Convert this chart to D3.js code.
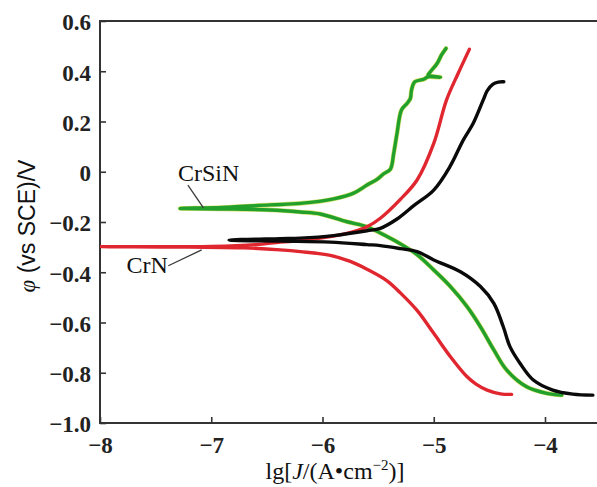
<!DOCTYPE html>
<html>
<head>
<meta charset="utf-8">
<script src="https://cdn.jsdelivr.net/npm/d3@7"></script>
<style>
  html, body { margin: 0; padding: 0; background: #fff; }
  svg { display: block; }
</style>
</head>
<body>
<svg id="chart" width="597" height="487"></svg>
<script>
// Potentiodynamic polarization curves: [lg J, potential φ vs SCE]
// Each curve runs along the cathodic branch toward E_corr, then back out along the anodic branch.
const crnCathodic = [
  [-4.30, -0.886], [-4.40, -0.884], [-4.52, -0.869], [-4.62, -0.845], [-4.70, -0.816],
  [-4.85, -0.736], [-5.00, -0.643], [-5.15, -0.552], [-5.30, -0.482], [-5.42, -0.434],
  [-5.60, -0.388], [-5.75, -0.357], [-5.93, -0.333], [-6.20, -0.318], [-6.38, -0.311],
  [-6.70, -0.303], [-7.20, -0.300], [-8.00, -0.298]
];
const crnAnodic = [
  [-8.00, -0.298], [-7.00, -0.297], [-6.60, -0.290], [-6.38, -0.280], [-6.20, -0.274],
  [-5.93, -0.258], [-5.72, -0.238], [-5.60, -0.219], [-5.48, -0.185], [-5.30, -0.110],
  [-5.15, -0.033], [-5.00, 0.113], [-4.885, 0.286], [-4.78, 0.392], [-4.68, 0.487]
];

const blackCathodic = [
  [-3.57, -0.889], [-3.75, -0.885], [-3.93, -0.869], [-4.105, -0.829], [-4.225, -0.762],
  [-4.315, -0.696], [-4.375, -0.617], [-4.46, -0.524], [-4.58, -0.457], [-4.76, -0.398],
  [-5.00, -0.351], [-5.15, -0.318], [-5.30, -0.306], [-5.48, -0.294], [-5.60, -0.290],
  [-5.93, -0.280], [-6.38, -0.276], [-6.84, -0.272]
];
const blackAnodic = [
  [-6.84, -0.272], [-6.38, -0.266], [-6.20, -0.264], [-5.90, -0.254], [-5.60, -0.235],
  [-5.48, -0.225], [-5.33, -0.188], [-5.18, -0.135], [-5.00, -0.073], [-4.855, 0.020],
  [-4.735, 0.126], [-4.645, 0.193], [-4.555, 0.286], [-4.52, 0.322], [-4.47, 0.348],
  [-4.42, 0.357], [-4.37, 0.358]
];

const crsinCathodic = [
  [-3.85, -0.889], [-3.985, -0.882], [-4.165, -0.856], [-4.345, -0.789], [-4.46, -0.709],
  [-4.58, -0.617], [-4.70, -0.537], [-4.85, -0.457], [-5.00, -0.391], [-5.15, -0.330],
  [-5.30, -0.287], [-5.42, -0.258], [-5.60, -0.219], [-5.78, -0.199], [-6.02, -0.168],
  [-6.20, -0.160], [-6.47, -0.152], [-6.90, -0.148], [-7.28, -0.146]
];
const crsinAnodic = [
  [-7.28, -0.146], [-6.90, -0.142], [-6.47, -0.132], [-6.20, -0.126], [-5.90, -0.108],
  [-5.72, -0.085], [-5.60, -0.053], [-5.51, -0.030], [-5.45, -0.008], [-5.39, 0.010],
  [-5.36, 0.073], [-5.33, 0.153], [-5.29, 0.246], [-5.24, 0.272], [-5.21, 0.292],
  [-5.20, 0.325], [-5.17, 0.358], [-5.09, 0.368], [-5.05, 0.378], [-4.94, 0.376],
  [-5.05, 0.385], [-5.03, 0.398], [-4.97, 0.431], [-4.93, 0.465], [-4.89, 0.491]
];

const xTicks = [-8, -7, -6, -5, -4];
const xTickLabels = ["\u22128", "\u22127", "\u22126", "\u22125", "\u22124"];
const yTicks = [-1.0, -0.8, -0.6, -0.4, -0.2, 0, 0.2, 0.4, 0.6];
const yTickLabels = ["\u22121.0", "\u22120.8", "\u22120.6", "\u22120.4", "\u22120.2", "0", "0.2", "0.4", "0.6"];

// Curve labels with leader lines, in data units
const seriesLabels = [
  { text: "CrSiN", at: [-7.30, -0.037], anchor: "start", leader: [[-7.21, -0.053], [-7.07, -0.144]] },
  { text: "CrN", at: [-7.39, -0.403], anchor: "end", leader: [[-7.386, -0.374], [-7.086, -0.311]] }
];

const W = 597, H = 487;
const svg = d3.select("#chart");

const x = d3.scaleLinear().domain([-8, -4]).range([100, 545]);
const y = d3.scaleLinear().domain([-1.0, 0.6]).range([423, 21]);
const xRight = W;

const axisColor = "#333";
const serif = "'Liberation Serif', 'Times New Roman', serif";
const sans = "'Liberation Sans', Arial, sans-serif";

svg.append("defs").append("clipPath").attr("id", "plotclip")
  .append("rect").attr("x", x(-8)).attr("y", y(0.6) - 2)
  .attr("width", xRight - x(-8)).attr("height", y(-1) - y(0.6) + 4);

// Frame: left, bottom and top lines
const frame = svg.append("g");
frame.append("line").attr("x1", x(-8)).attr("x2", x(-8)).attr("y1", y(0.6)).attr("y2", y(-1))
  .attr("stroke", axisColor).attr("stroke-width", 2);
frame.append("line").attr("x1", x(-8) - 1).attr("x2", xRight).attr("y1", y(-1)).attr("y2", y(-1))
  .attr("stroke", axisColor).attr("stroke-width", 2);
frame.append("line").attr("x1", x(-8) - 1).attr("x2", xRight).attr("y1", y(0.6)).attr("y2", y(0.6))
  .attr("stroke", axisColor).attr("stroke-width", 2);

// Bottom axis: inward ticks
const xAxis = d3.axisBottom(x).tickValues(xTicks)
  .tickSize(-6).tickPadding(14)
  .tickFormat((d, i) => xTickLabels[i]);
const gx = svg.append("g").attr("transform", `translate(0,${y(-1)})`).call(xAxis);
gx.select(".domain").remove();
gx.selectAll(".tick line").attr("stroke", axisColor).attr("stroke-width", 1.6);
gx.selectAll(".tick text")
  .attr("fill", "#222").attr("font-family", serif).attr("font-weight", "bold")
  .attr("font-size", 23).attr("dy", "0.71em");

// Left axis: inward ticks
const yAxis = d3.axisLeft(y).tickValues(yTicks)
  .tickSize(-6).tickPadding(9)
  .tickFormat((d, i) => yTickLabels[i]);
const gy = svg.append("g").attr("transform", `translate(${x(-8)},0)`).call(yAxis);
gy.select(".domain").remove();
gy.selectAll(".tick line").attr("stroke", axisColor).attr("stroke-width", 1.6);
gy.selectAll(".tick text")
  .attr("fill", "#222").attr("font-family", serif).attr("font-weight", "bold")
  .attr("font-size", 23).attr("dy", "0.38em");

// Curves
const line = d3.line()
  .x(d => x(d[0])).y(d => y(d[1]))
  .curve(d3.curveCatmullRom.alpha(0.5));

const curves = [
  { name: "crsin", color: "#22a02c", halo: "#c9d94a", data: crsinCathodic.concat(crsinAnodic.slice(1)) },
  { name: "crn", color: "#e0262f", halo: null, data: crnCathodic.concat(crnAnodic.slice(1)) },
  { name: "black", color: "#0a0a0a", halo: null, data: blackCathodic.concat(blackAnodic.slice(1)) }
];

const plot = svg.append("g").attr("clip-path", "url(#plotclip)");
curves.forEach(c => {
  if (c.halo) {
    plot.append("path").datum(c.data).attr("d", line)
      .attr("fill", "none").attr("stroke", c.halo).attr("stroke-width", 4.6)
      .attr("stroke-linejoin", "round").attr("stroke-linecap", "round").attr("opacity", 0.8);
  }
  plot.append("path").datum(c.data).attr("d", line)
    .attr("class", "curve-" + c.name)
    .attr("fill", "none").attr("stroke", c.color).attr("stroke-width", 3.4)
    .attr("stroke-linejoin", "round").attr("stroke-linecap", "round");
});

// Curve labels
const labels = svg.append("g");
seriesLabels.forEach(l => {
  labels.append("line")
    .attr("x1", x(l.leader[0][0])).attr("y1", y(l.leader[0][1]))
    .attr("x2", x(l.leader[1][0])).attr("y2", y(l.leader[1][1]))
    .attr("stroke", "#3a3a3a").attr("stroke-width", 1.3);
  labels.append("text")
    .attr("x", x(l.at[0])).attr("y", y(l.at[1]))
    .attr("text-anchor", l.anchor)
    .attr("font-family", serif).attr("font-size", 24).attr("fill", "#111")
    .text(l.text);
});

// Axis titles
const xt = svg.append("text")
  .attr("x", 335).attr("y", 479)
  .attr("text-anchor", "middle")
  .attr("font-family", serif).attr("font-size", 24).attr("fill", "#111");
xt.append("tspan").text("lg[");
xt.append("tspan").attr("font-style", "italic").text("J");
xt.append("tspan").text("/(A\u2022cm");
xt.append("tspan").attr("font-size", 15).attr("dy", -9).text("\u22122");
xt.append("tspan").attr("dy", 9).text(")]");

const yt = svg.append("text")
  .attr("transform", "translate(35,226) rotate(-90)")
  .attr("text-anchor", "middle")
  .attr("font-size", 23).attr("fill", "#111");
yt.append("tspan").attr("font-family", serif).attr("font-style", "italic").text("\u03c6");
yt.append("tspan").attr("font-family", sans).text(" (vs SCE)/V");
</script>
</body>
</html>
